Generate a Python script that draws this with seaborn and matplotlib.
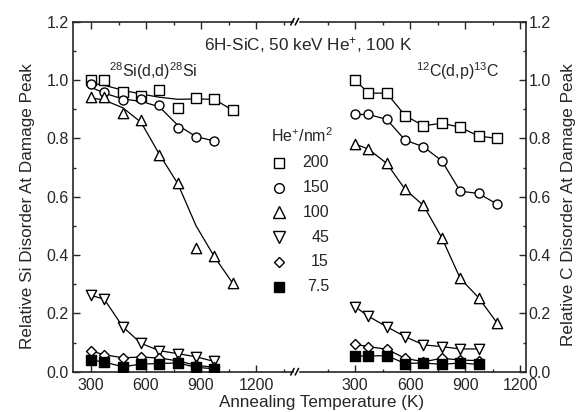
import matplotlib
matplotlib.use("Agg")
import matplotlib.pyplot as plt
from matplotlib.lines import Line2D
from matplotlib.ticker import FixedLocator, MultipleLocator, FormatStrFormatter
import seaborn as sns

# annealing temperatures (K)
temps = [300, 373, 473, 573, 673, 773, 873, 973, 1073]

# 28Si(d,d)28Si  - relative Si disorder
si_200 = [1.0, 1.0, 0.96, 0.945, 0.966, 0.905, 0.939, 0.935, 0.896]
si_150 = [0.986, 0.959, 0.931, 0.935, 0.913, 0.837, 0.806, 0.791]
si_100 = [0.943, 0.941, 0.886, 0.863, 0.743, 0.646, 0.425, 0.397, 0.303]
si_45 = [0.262, 0.248, 0.154, 0.097, 0.072, 0.062, 0.051, 0.035]
si_15 = [0.071, 0.058, 0.048, 0.050, 0.047, 0.037, 0.022, 0.015]
si_7p5 = [0.040, 0.033, 0.017, 0.026, 0.028, 0.030, 0.015, 0.010]

# fitted curves drawn through the high-dose Si data
si_200_fit = [0.99, 0.982, 0.965, 0.952, 0.941, 0.934, 0.935, 0.934, 0.896]
si_150_fit = [0.975, 0.955, 0.935, 0.927, 0.908, 0.845, 0.806, 0.791]
si_100_fit = [0.939, 0.931, 0.905, 0.855, 0.745, 0.645, 0.50, 0.394, 0.303]

# 12C(d,p)13C  - relative C disorder
c_200 = [1.0, 0.955, 0.955, 0.878, 0.843, 0.852, 0.838, 0.808, 0.80]
c_150 = [0.882, 0.882, 0.865, 0.794, 0.771, 0.723, 0.619, 0.611, 0.575]
c_100 = [0.781, 0.763, 0.714, 0.625, 0.57, 0.459, 0.32, 0.254, 0.168]
c_45 = [0.223, 0.19, 0.154, 0.12, 0.092, 0.086, 0.078, 0.078]
c_15 = [0.094, 0.086, 0.077, 0.046, 0.034, 0.046, 0.040, 0.038]
c_7p5 = [0.054, 0.054, 0.055, 0.028, 0.030, 0.025, 0.030, 0.025]

doses = ["200", "150", "100", "45", "15", "7.5"]
markers = ["s", "o", "^", "v", "D", "s"]
sizes = [42, 42, 55, 55, 26, 42]
faces = ["white", "white", "white", "white", "white", "black"]

sns.set_style("ticks")
plt.rcParams["font.family"] = ["Liberation Sans", "DejaVu Sans"]
plt.rcParams["mathtext.fontset"] = "custom"
plt.rcParams["mathtext.rm"] = "Liberation Sans"
plt.rcParams["mathtext.it"] = "Liberation Sans:italic"
FS = 11.5
LFS = 12.3

W, H = 584, 412
fig = plt.figure(figsize=(W / 100, H / 100), dpi=100)
ax_si = fig.add_axes([72.7 / W, 40.3 / H, 220 / W, 350 / H])
ax_c = fig.add_axes([300 / W, 40.3 / H, 225.7 / W, 350 / H])


def draw(ax, data, fits):
    for i, vals in enumerate(data):
        x = temps[:len(vals)]
        line = fits[i] if fits[i] is not None else vals
        sns.lineplot(x=temps[:len(line)], y=line, color="black", lw=0.9,
                     ax=ax, zorder=2)
        sns.scatterplot(x=x, y=vals, marker=markers[i], s=sizes[i],
                        facecolor=faces[i], edgecolor="black", linewidth=1,
                        ax=ax, zorder=3)


draw(ax_si, [si_200, si_150, si_100, si_45, si_15, si_7p5],
     [si_200_fit, si_150_fit, si_100_fit, None, None, None])
draw(ax_c, [c_200, c_150, c_100, c_45, c_15, c_7p5],
     [None] * 6)

ax_si.set_xlim(200, 1400)
ax_c.set_xlim(0, 1230)
ax_si.xaxis.set_major_locator(FixedLocator([300, 600, 900, 1200]))
ax_si.xaxis.set_minor_locator(FixedLocator([450, 750, 1050, 1350]))
ax_c.xaxis.set_major_locator(FixedLocator([300, 600, 900, 1200]))
ax_c.xaxis.set_minor_locator(FixedLocator([150, 450, 750, 1050]))

for ax in (ax_si, ax_c):
    ax.set_ylim(0, 1.2)
    ax.yaxis.set_major_locator(MultipleLocator(0.2))
    ax.yaxis.set_minor_locator(MultipleLocator(0.1))
    ax.yaxis.set_major_formatter(FormatStrFormatter("%.1f"))
    ax.set_xlabel("")
    ax.set_ylabel("")
    for s in ax.spines.values():
        s.set_linewidth(1.2)
    ax.tick_params(which="both", direction="in", top=True, labelsize=FS,
                   width=1, pad=3)
    ax.tick_params(axis="x", which="major", pad=4.5)
    ax.tick_params(which="major", length=5)
    ax.tick_params(which="minor", length=2.5)

ax_si.spines["right"].set_visible(False)
ax_si.tick_params(which="both", right=False, left=True)
ax_c.spines["left"].set_visible(False)
ax_c.tick_params(which="both", left=False, right=True,
                 labelleft=False, labelright=True)
ax_c.tick_params(axis="y", which="major", pad=2)

# axis break marks
for y0 in (371.7, 21.7):
    for x0 in (290.7, 295.2):
        fig.add_artist(Line2D([x0 / W, (x0 + 3.4) / W],
                              [1 - (y0 + 3.3) / H, 1 - (y0 - 3.3) / H],
                              color="black", lw=1.1))

# labels and annotations
fig.text(322 / W, 1 - 403 / H, "Annealing Temperature (K)", ha="center",
         va="center", fontsize=LFS)
fig.text(28 / W, 1 - 206 / H, "Relative Si Disorder At Damage Peak",
         rotation=90, ha="center", va="center", fontsize=LFS)
fig.text(569 / W, 1 - 205 / H, "Relative C Disorder At Damage Peak",
         rotation=90, ha="center", va="center", fontsize=LFS)
fig.text(308 / W, 1 - 45 / H, "6H-SiC, 50 keV He$^{+}$, 100 K",
         ha="center", va="center", fontsize=LFS)
ax_si.text(637, 1.03, "$^{28}$Si(d,d)$^{28}$Si", ha="center", va="center",
           fontsize=FS)
ax_c.text(862, 1.03, "$^{12}$C(d,p)$^{13}$C", ha="center", va="center",
          fontsize=FS)

# legend (markers left, dose values right-aligned)
fig.text(271 / W, 1 - 136 / H, "He$^{+}$/nm$^{2}$", ha="left", va="center",
         fontsize=FS)
for i, d in enumerate(doses):
    yy = 1 - (162.7 + i * 24.8) / H
    ms = {"s": 7, "o": 7, "^": 8, "v": 8, "D": 5.3}[markers[i]]
    fig.add_artist(Line2D([279 / W], [yy], marker=markers[i], ms=ms,
                          mfc=faces[i], mec="black", mew=1, ls="none"))
    fig.text(329 / W, yy, d, ha="right", va="center", fontsize=FS)

fig.savefig("out.png", dpi=100)
